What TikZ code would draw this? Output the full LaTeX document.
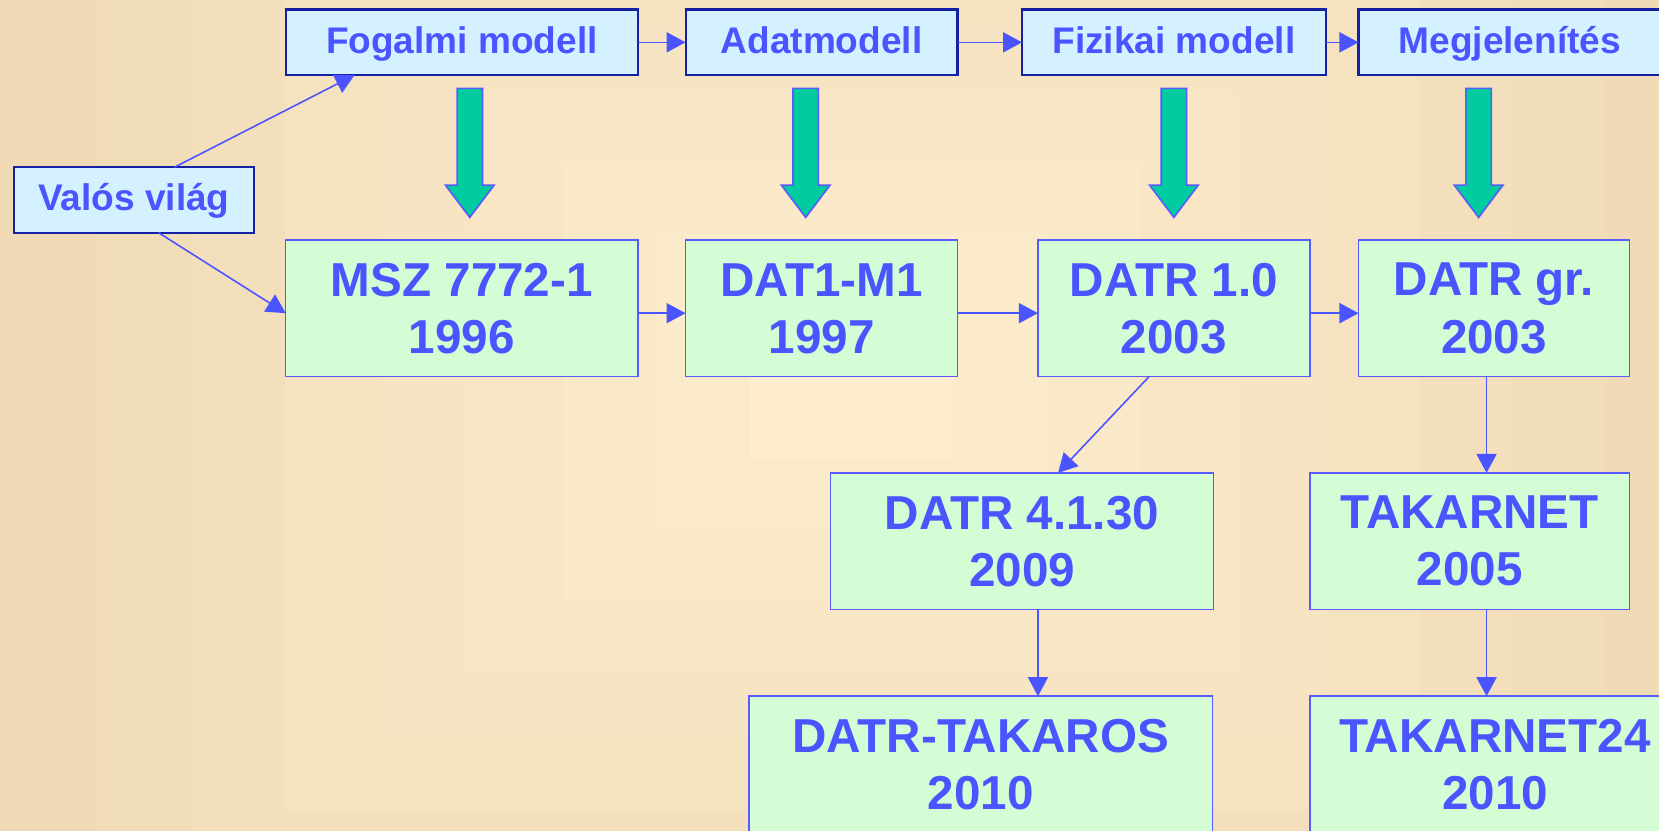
\documentclass[tikz,border=0pt]{standalone}
\usepackage{fontspec}
\setmainfont{Liberation Sans}
\usetikzlibrary{arrows.meta,calc}
\definecolor{txtblue}{RGB}{74,84,255}
\definecolor{lineblue}{RGB}{75,85,255}
\definecolor{topfill}{RGB}{213,240,255}
\definecolor{topborder}{RGB}{22,32,165}
\definecolor{greenfill}{RGB}{213,253,213}
\definecolor{greenborder}{RGB}{90,90,255}
\definecolor{fatgreen}{RGB}{0,204,160}
\definecolor{bgout}{RGB}{240,219,182}
\definecolor{bgin}{RGB}{254,237,206}
\newcommand\fatarrow[1]{\filldraw[fatstyle] (#1-12,83.5) -- (#1+12,83.5) -- (#1+12,175) -- (#1+23,175) -- (#1,205.5) -- (#1-23,175) -- (#1-12,175) -- cycle;}
\begin{document}
\begin{tikzpicture}[x=1pt,y=-1pt,
  topbox/.style={draw=topborder,line width=2pt,fill=topfill,inner sep=0pt,outer sep=0pt,
    minimum height=62pt,text=txtblue,font=\fontsize{35}{40}\selectfont\bfseries,
    text height=26pt,text depth=5.2pt},
  greenbox/.style={draw=greenborder,line width=1.5pt,fill=greenfill,inner sep=0pt,outer sep=0pt,
    minimum height=129pt,text=txtblue,align=center,font=\fontsize{45}{54}\selectfont\bfseries},
  conn/.style={draw=lineblue,line width=1.5pt,-{Triangle[length=18pt,width=19pt]}},
  fatstyle/.style={fill=fatgreen,draw=greenborder,line width=1.5pt,line join=miter}]
\useasboundingbox (0,0) rectangle (1568,785.4);
\clip (0,0) rectangle (1568,785.4);
% background
\fill[bgout] (0,0) rectangle (1568,785.4);
\foreach \i in {1,...,8}{
  \pgfmathsetmacro\hw{800-88*\i}
  \pgfmathsetmacro\hh{0.76*\hw}
  \pgfmathtruncatemacro\p{\i*12.5}
  \fill[bgin!\p!bgout] (805-\hw,360-\hh) rectangle (805+\hw,360+\hh);
}
% top row
\node[topbox,minimum width=333pt] (fog) at (436.5,40) {Fogalmi modell};
\node[topbox,minimum width=257pt] (adat) at (776.5,40) {Adatmodell};
\node[topbox,minimum width=287pt] (fiz) at (1109.5,40) {Fizikai modell};
\node[topbox,minimum width=286pt] (megj) at (1427,40) {Megjelenítés};
\node[topbox,minimum width=227pt] (valos) at (126.5,189) {Valós világ};
% green boxes
\node[greenbox,minimum width=333pt] (msz) at (436.5,291.5) {MSZ 7772-1\\1996};
\node[greenbox,minimum width=257pt] (dat1) at (776.5,291.5) {DAT1-M1\\1997};
\node[greenbox,minimum width=257pt] (datr1) at (1109.5,291.5) {DATR 1.0\\2003};
\node[greenbox,minimum width=256pt] (datrgr) at (1412,291.5) {DATR gr.\\2003};
\node[greenbox,minimum width=362pt] (datr4) at (966,511.5) {DATR 4.1.30\\2009};
\node[greenbox,minimum width=302pt] (tak) at (1389,511.5) {TAKARNET\\2005};
\node[greenbox,minimum width=438pt] (takaros) at (927,722.5) {DATR-TAKAROS\\2010};
\node[greenbox,minimum width=350pt] (tak24) at (1413,722.5) {TAKARNET24\\2010};
% fat arrows
\fatarrow{444}
\fatarrow{761.5}
\fatarrow{1109.5}
\fatarrow{1397.5}
% connectors
\draw[conn] ($(valos.north west)+(152,0)$) -- ($(fog.south west)+(65,0)$);
\draw[conn] ($(valos.south west)+(137,0)$) -- ($(msz.west)+(0,4.5)$);
\draw[conn] (fog.east) -- (adat.west);
\draw[conn] (adat.east) -- (fiz.west);
\draw[conn] (fiz.east) -- (megj.west);
\draw[conn] ($(msz.east)+(0,4.5)$) -- ($(dat1.west)+(0,4.5)$);
\draw[conn] ($(dat1.east)+(0,4.5)$) -- ($(datr1.west)+(0,4.5)$);
\draw[conn] ($(datr1.east)+(0,4.5)$) -- ($(datrgr.west)+(0,4.5)$);
\draw[conn] ($(datr1.south west)+(105,0)$) -- ($(datr4.north west)+(215,0)$);
\draw[conn] ($(datrgr.south west)+(121,0)$) -- ($(tak.north west)+(167,0)$);
\draw[conn] ($(datr4.south west)+(196,0)$) -- ($(takaros.north west)+(273,0)$);
\draw[conn] ($(tak.south west)+(167,0)$) -- ($(tak24.north west)+(167,0)$);
\end{tikzpicture}
\end{document}
